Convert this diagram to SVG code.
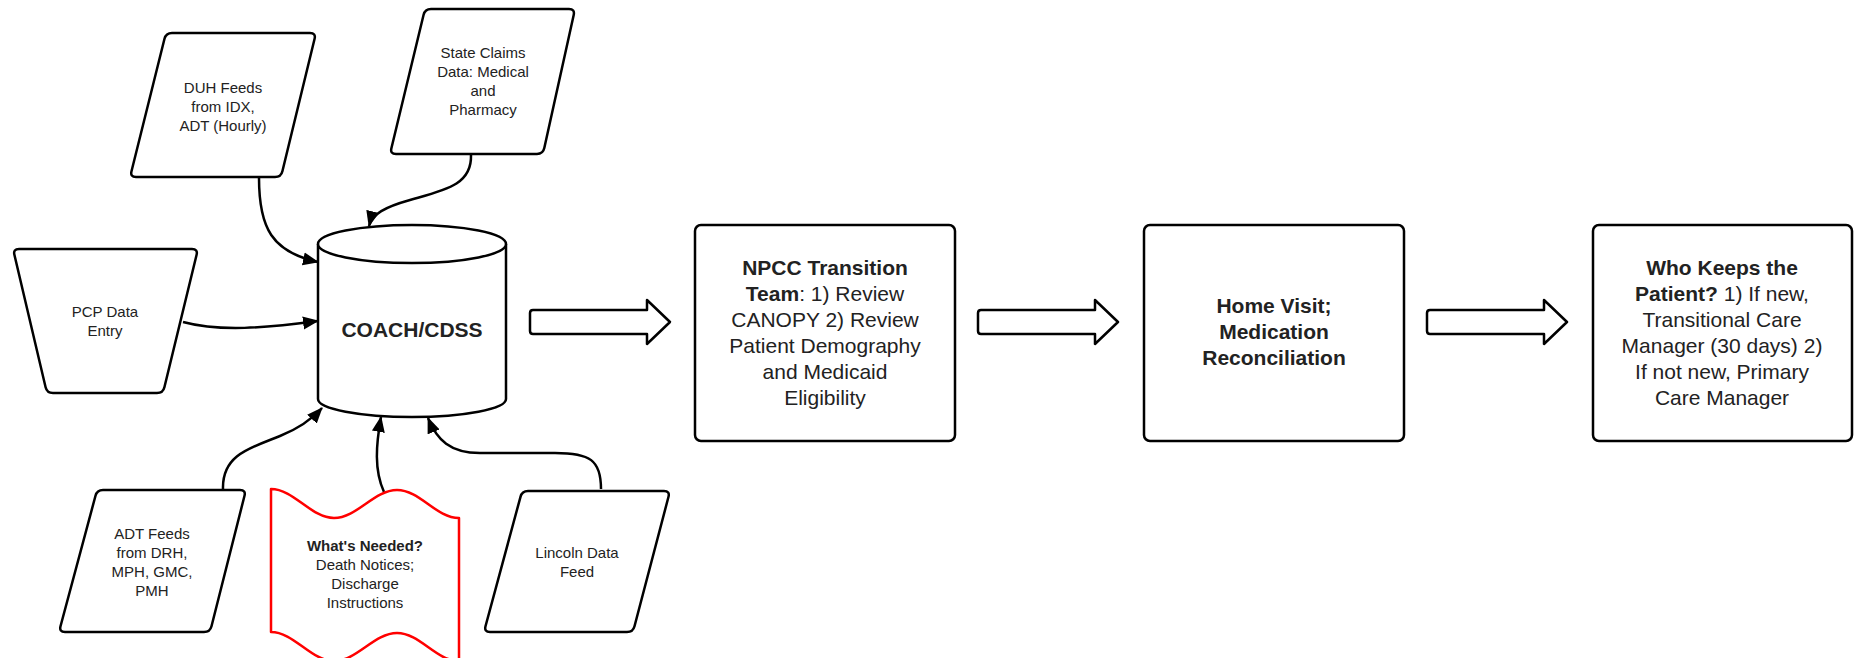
<svg xmlns="http://www.w3.org/2000/svg" xmlns:xlink="http://www.w3.org/1999/xlink" width="1858" height="658" viewBox="0 0 1858 658">
<style>
.shape{fill:#fff;stroke:#000;stroke-width:2.5;stroke-linejoin:round}
.red{fill:#fff;stroke:#ff0000;stroke-width:2.5;stroke-linejoin:round}
.conn{fill:none;stroke:#000;stroke-width:2.5;marker-end:url(#ah)}
.sm{font-family:"Liberation Sans",Arial,sans-serif;font-size:15px;fill:#222;text-anchor:middle}
.lg{font-family:"Liberation Sans",Arial,sans-serif;font-size:21px;fill:#222;text-anchor:middle}
.b{font-weight:bold}
</style>
<defs>
<marker id="ah" markerWidth="18" markerHeight="14" refX="15" refY="7" orient="auto" markerUnits="userSpaceOnUse">
<path d="M0,0.5 L16,7 L0,13.5 Z" fill="#000"/>
</marker>
<path id="hollow" d="M3,10 L117,10 L117,0 L140,22 L117,44 L117,34 L3,34 Q0,34 0,31 L0,13 Q0,10 3,10 Z"/>
</defs>
<rect width="1858" height="658" fill="#fff"/>

<g id="connectors">
<path class="conn" d="M259,178 C259,228 272,252 318,262"/>
<path class="conn" d="M471,155 C472,185 445,190 410,200 C385,207 372,214 369,226"/>
<path class="conn" d="M183,322 C220,332 265,328 318,321"/>
<path class="conn" d="M223,489 C222,455 250,448 280,436 C300,428 313,418 322,408"/>
<path class="conn" d="M384,492 C374,470 376,445 381,417"/>
<path class="conn" d="M601,489 C601,460 590,453 555,453 L480,453 C450,453 437,440 428,418"/>
<use xlink:href="#hollow" class="shape" transform="translate(530,300)"/>
<use xlink:href="#hollow" class="shape" transform="translate(978,300)"/>
<use xlink:href="#hollow" class="shape" transform="translate(1427,300)"/>
</g>

<g id="duh">
<path class="shape" d="M172,33 L310,33 Q316,33 314.6,38.8 L282.4,171.2 Q281,177 275,177 L136,177 Q130,177 131.5,171.2 L164.5,38.8 Q166,33 172,33 Z"/>
<text class="sm" x="223" y="93">DUH Feeds</text>
<text class="sm" x="223" y="112">from IDX,</text>
<text class="sm" x="223" y="131">ADT (Hourly)</text>
</g>

<g id="state-claims">
<path class="shape" d="M431,9 L569,9 Q575,9 573.7,14.9 L544.3,148.1 Q543,154 537,154 L396,154 Q390,154 391.4,148.2 L423.6,14.8 Q425,9 431,9 Z"/>
<text class="sm" x="483" y="58">State Claims</text>
<text class="sm" x="483" y="77">Data: Medical</text>
<text class="sm" x="483" y="96">and</text>
<text class="sm" x="483" y="115">Pharmacy</text>
</g>

<g id="pcp">
<path class="shape" d="M19,249 L192,249 Q198,249 196.6,254.8 L164.4,387.2 Q163,393 157,393 L53,393 Q47,393 45.6,387.2 L14.4,254.8 Q13,249 19,249 Z"/>
<text class="sm" x="105" y="317">PCP Data</text>
<text class="sm" x="105" y="336">Entry</text>
</g>

<g id="coach">
<path class="shape" d="M318,244 L318,399 A94,18 0 0 0 506,399 L506,244 A94,19 0 0 0 318,244 Z"/>
<path class="shape" fill="none" d="M318,244 A94,19 0 0 0 506,244"/>
<text class="lg b" x="412" y="337">COACH/CDSS</text>
</g>

<g id="adt">
<path class="shape" d="M103,490 L240,490 Q246,490 244.5,495.8 L211.5,626.2 Q210,632 204,632 L65,632 Q59,632 60.5,626.2 L95.5,495.8 Q97,490 103,490 Z"/>
<text class="sm" x="152" y="539">ADT Feeds</text>
<text class="sm" x="152" y="558">from DRH,</text>
<text class="sm" x="152" y="577">MPH, GMC,</text>
<text class="sm" x="152" y="596">PMH</text>
</g>

<g id="whats-needed">
<path class="red" d="M271,489 C294,489 311,518 334,518 C357,518 374,490 397,490 C420,490 436,518 459,518 L459,661 C436,661 420,633 397,633 C374,633 357,661 334,661 C311,661 294,632 271,632 Z"/>
<text class="sm b" x="365" y="551">What's Needed?</text>
<text class="sm" x="365" y="570">Death Notices;</text>
<text class="sm" x="365" y="589">Discharge</text>
<text class="sm" x="365" y="608">Instructions</text>
</g>

<g id="lincoln">
<path class="shape" d="M528,491 L664,491 Q670,491 668.5,496.8 L634.5,626.2 Q633,632 627,632 L490,632 Q484,632 485.5,626.2 L520.5,496.8 Q522,491 528,491 Z"/>
<text class="sm" x="577" y="558">Lincoln Data</text>
<text class="sm" x="577" y="577">Feed</text>
</g>

<g id="npcc">
<rect class="shape" x="695" y="225" width="260" height="216" rx="6"/>
<text class="lg" x="825" y="275"><tspan class="b">NPCC Transition</tspan></text>
<text class="lg" x="825" y="301"><tspan class="b">Team</tspan>: 1) Review</text>
<text class="lg" x="825" y="327">CANOPY 2) Review</text>
<text class="lg" x="825" y="353">Patient Demography</text>
<text class="lg" x="825" y="379">and Medicaid</text>
<text class="lg" x="825" y="405">Eligibility</text>
</g>

<g id="home-visit">
<rect class="shape" x="1144" y="225" width="260" height="216" rx="6"/>
<text class="lg b" x="1274" y="313">Home Visit;</text>
<text class="lg b" x="1274" y="339">Medication</text>
<text class="lg b" x="1274" y="365">Reconciliation</text>
</g>

<g id="who-keeps">
<rect class="shape" x="1593" y="225" width="259" height="216" rx="6"/>
<text class="lg" x="1722" y="275"><tspan class="b">Who Keeps the</tspan></text>
<text class="lg" x="1722" y="301"><tspan class="b">Patient?</tspan> 1) If new,</text>
<text class="lg" x="1722" y="327">Transitional Care</text>
<text class="lg" x="1722" y="353">Manager (30 days) 2)</text>
<text class="lg" x="1722" y="379">If not new, Primary</text>
<text class="lg" x="1722" y="405">Care Manager</text>
</g>
</svg>
